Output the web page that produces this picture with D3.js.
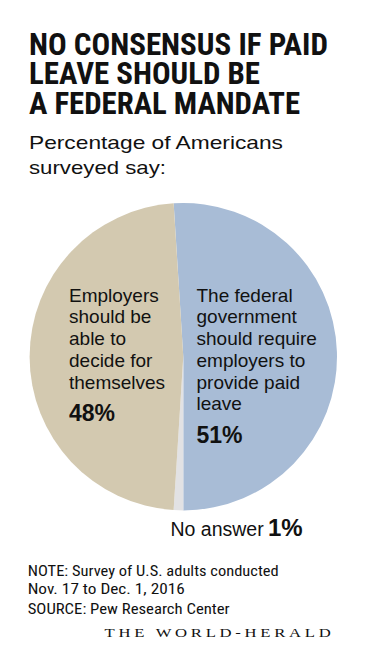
<!DOCTYPE html>
<html>
<head>
<meta charset="utf-8">
<script src="https://cdn.jsdelivr.net/npm/d3@7/dist/d3.min.js"></script>
<style>
html,body{margin:0;padding:0;background:#fff;}
svg{display:block;}
</style>
</head>
<body>
<svg id="chart" width="367" height="667"></svg>
<script>
// ---- data ----
const titleLines = ["NO CONSENSUS IF PAID", "LEAVE SHOULD BE", "A FEDERAL MANDATE"];
const subtitleLines = ["Percentage of Americans", "surveyed say:"];
const categories = ["federal", "noanswer", "employers"];
const values = [51, 1, 48];
const sliceLabels = [
  ["The federal", "government", "should require", "employers to", "provide paid", "leave"],
  ["No answer"],
  ["Employers", "should be", "able to", "decide for", "themselves"]
];
const noteLines = ["NOTE: Survey of U.S. adults conducted", "Nov. 17 to Dec. 1, 2016"];
const sourceLine = "SOURCE: Pew Research Center";
const brand = "THE WORLD-HERALD";

// ---- drawing ----
const svg = d3.select("#chart");
const ink = "#111";
const colors = d3.scaleOrdinal().domain(categories).range(["#a8bcd6", "#e2e2e4", "#d3c9b0"]);

function fitText(sel, w) {
  sel.attr("textLength", w).attr("lengthAdjust", "spacingAndGlyphs");
}

// title
const condensed = "'Liberation Sans Narrow','Roboto Condensed','DejaVu Sans Condensed','Arial Narrow',sans-serif";
const titleBase = [54.5, 83.5, 113.5];
const titleW = [299, 231, 271];
titleLines.forEach((t, i) => {
  svg.append("text").attr("x", 29).attr("y", titleBase[i])
    .attr("font-family", condensed).attr("font-weight", "bold")
    .attr("font-size", 31.5).attr("fill", ink).text(t)
    .call(fitText, titleW[i]);
});

// subtitle
const subBase = [148.5, 173.5];
const subW = [254, 137];
subtitleLines.forEach((t, i) => {
  svg.append("text").attr("x", 29).attr("y", subBase[i])
    .attr("font-family", "'Liberation Sans',Arial,sans-serif")
    .attr("font-size", 19).attr("fill", ink).text(t)
    .call(fitText, subW[i]);
});

// pie
const cx = 183.3, cy = 356.7, r = 153.7;
const offset = -values[1] / 100 * 2 * Math.PI * 1.0; // rotate so grey sits at bottom
const pie = d3.pie().sort(null).value(d => d)
  .startAngle(offset).endAngle(offset + 2 * Math.PI);
const arcs = pie(values);
const arc = d3.arc().innerRadius(0).outerRadius(r);
const g = svg.append("g").attr("transform", `translate(${cx},${cy})`);
g.selectAll("path").data(arcs).join("path")
  .attr("d", arc)
  .attr("fill", (d, i) => colors(categories[i]));

// slice labels
const sans = "'Liberation Sans',Arial,sans-serif";
const lineH = 21.7;
// right (federal)
sliceLabels[0].forEach((t, i) => {
  svg.append("text").attr("x", 196.5).attr("y", 301.7 + i * lineH)
    .attr("font-family", sans).attr("font-size", 19).attr("fill", ink).text(t);
});
svg.append("text").attr("x", 196.5).attr("y", 443)
  .attr("font-family", sans).attr("font-weight", "bold").attr("font-size", 23)
  .attr("fill", ink).text(values[0] + "%");
// left (employers)
sliceLabels[2].forEach((t, i) => {
  svg.append("text").attr("x", 69).attr("y", 301.7 + i * lineH)
    .attr("font-family", sans).attr("font-size", 19).attr("fill", ink).text(t);
});
svg.append("text").attr("x", 69).attr("y", 420.5)
  .attr("font-family", sans).attr("font-weight", "bold").attr("font-size", 23)
  .attr("fill", ink).text(values[2] + "%");
// no answer
svg.append("text").attr("x", 170.5).attr("y", 536)
  .attr("font-family", sans).attr("font-size", 19.5).attr("fill", ink).text(sliceLabels[1][0]);
svg.append("text").attr("x", 268).attr("y", 536)
  .attr("font-family", sans).attr("font-weight", "bold").attr("font-size", 24)
  .attr("fill", ink).text(values[1] + "%");

// footer
const noteBase = [575.7, 593.5];
const noteW = [251, 157];
noteLines.forEach((t, i) => {
  svg.append("text").attr("x", 27.7).attr("y", noteBase[i])
    .attr("font-family", condensed).attr("font-size", 15).attr("fill", ink).text(t)
    .call(fitText, noteW[i]);
});
svg.append("text").attr("x", 27.7).attr("y", 613.5)
  .attr("font-family", condensed).attr("font-size", 15).attr("fill", ink).text(sourceLine)
  .call(fitText, 202);
svg.append("text").attr("x", 104.5).attr("y", 636.7)
  .attr("font-family", "'Liberation Serif','DejaVu Serif',serif").attr("font-size", 13.5)
  .attr("fill", ink).attr("letter-spacing", 3).text(brand)
  .call(fitText, 230);
</script>
</body>
</html>
